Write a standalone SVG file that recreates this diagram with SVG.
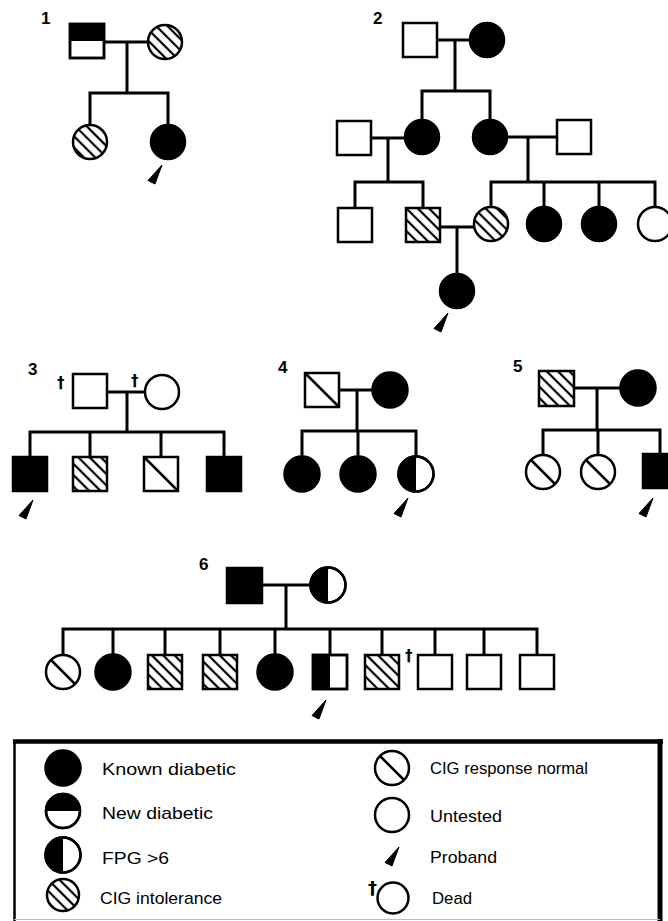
<svg xmlns="http://www.w3.org/2000/svg" xmlns:xlink="http://www.w3.org/1999/xlink" width="668" height="921" viewBox="0 0 668 921">
<style>
.o{fill:#fff;stroke:#000;stroke-width:2.5}
.b{fill:#000;stroke:#000;stroke-width:2.5}
.h{fill:url(#hatch);stroke:#000;stroke-width:2.5}
.e{fill:none;stroke:#000;stroke-width:2.5}
.k{fill:#000;stroke:none}
.ln{stroke:#000;stroke-width:3;fill:none;stroke-linecap:square}
.d{stroke:#000;stroke-width:2.5}
.t{font-family:"Liberation Sans",Arial,sans-serif;font-size:17px;fill:#000}
.n{font-family:"Liberation Sans",Arial,sans-serif;font-size:17px;font-weight:bold;fill:#000}
.dg{font-family:"DejaVu Sans",sans-serif;font-size:15px;font-weight:bold;fill:#000}
</style>
<defs>
<pattern id="hatch" patternUnits="userSpaceOnUse" width="8" height="8" patternTransform="rotate(-45)">
<rect width="8" height="8" fill="#fff"/>
<line x1="4" y1="0" x2="4" y2="8" stroke="#000" stroke-width="2.2"/>
</pattern>
<path id="pb" d="M0,0 L-14,15.5 L-7,19 Z" fill="#000" stroke="#000" stroke-width="1" stroke-linejoin="miter"/>
</defs>
<rect width="668" height="921" fill="#fff"/>

<g id="connectors">
<path class="ln" d="M104,42 H148 M127,42 V93 M90,93 H168 M90,93 V125 M168,93 V125"/>
<path class="ln" d="M437,40 H470 M455,40 V91 M422,91 H490 M422,91 V120 M490,91 V120"/>
<path class="ln" d="M371,138 H405 M388,138 V182 M355,182 H423 M355,182 V208 M423,182 V208"/>
<path class="ln" d="M507,137 H557 M528,137 V182 M491,182 H655 M491,182 V207 M544,182 V207 M599,182 V207 M655,182 V207"/>
<path class="ln" d="M440,227 H474 M457,227 V274"/>
<path class="ln" d="M107,392 H145 M127,392 V432 M30,432 H224 M30,432 V457 M90,432 V457 M161,432 V457 M224,432 V457"/>
<path class="ln" d="M339,390 H372 M357,390 V431 M302,431 H416 M302,431 V457 M358,431 V457 M416,431 V457"/>
<path class="ln" d="M574,388 H620 M597,388 V430 M543,430 H660 M543,430 V455 M598,430 V455 M660,430 V454"/>
<path class="ln" d="M262,585 H310 M286,585 V629 M63,629 H537 M63,629 V655 M113,629 V655 M165,629 V655 M220,629 V655 M275,629 V655 M330,629 V655 M382,629 V655 M435,629 V655 M484,629 V655 M537,629 V655"/>
</g>

<g id="ped1">
<text class="n" x="41" y="24">1</text>
<g id="p1-father"><rect class="o" x="70" y="24" width="34" height="34"/><rect class="k" x="70" y="24" width="34" height="17"/><rect class="e" x="70" y="24" width="34" height="34"/></g>
<g id="p1-mother"><circle class="h" cx="165" cy="42" r="17"/></g>
<g id="p1-c1"><circle class="h" cx="90" cy="142" r="17"/></g>
<g id="p1-c2"><circle class="b" cx="168" cy="142" r="17"/><use href="#pb" x="162" y="165"/></g>
</g>

<g id="ped2">
<text class="n" x="373" y="24">2</text>
<g id="p2-gf"><rect class="o" x="403" y="23" width="34" height="34"/></g>
<g id="p2-gm"><circle class="b" cx="487" cy="40" r="17"/></g>
<g id="p2-d1"><circle class="b" cx="422" cy="137" r="17"/></g>
<g id="p2-d2"><circle class="b" cx="490" cy="137" r="17"/></g>
<g id="p2-h1"><rect class="o" x="337" y="121" width="34" height="34"/></g>
<g id="p2-h2"><rect class="o" x="557" y="120" width="34" height="34"/></g>
<g id="p2-s1"><rect class="o" x="338" y="208" width="34" height="34"/></g>
<g id="p2-s2"><rect class="h" x="406" y="208" width="34" height="34"/></g>
<g id="p2-c1"><circle class="h" cx="491" cy="224" r="17"/></g>
<g id="p2-c2"><circle class="b" cx="544" cy="224" r="17"/></g>
<g id="p2-c3"><circle class="b" cx="599" cy="224" r="17"/></g>
<g id="p2-c4"><circle class="o" cx="655" cy="224" r="17"/></g>
<g id="p2-proband"><circle class="b" cx="457" cy="291" r="17"/><use href="#pb" x="448" y="313"/></g>
</g>

<g id="ped3">
<text class="n" x="28" y="375">3</text>
<g id="p3-father"><text class="dg" x="57" y="388">†</text><rect class="o" x="73" y="374" width="34" height="34"/></g>
<g id="p3-mother"><text class="dg" x="131" y="386">†</text><circle class="o" cx="162" cy="392" r="17"/></g>
<g id="p3-c1"><rect class="b" x="13" y="457" width="34" height="34"/><use href="#pb" x="33" y="500"/></g>
<g id="p3-c2"><rect class="h" x="73" y="457" width="34" height="34"/></g>
<g id="p3-c3"><rect class="o" x="144" y="457" width="34" height="34"/><line class="d" x1="144" y1="457" x2="178" y2="491"/></g>
<g id="p3-c4"><rect class="b" x="207" y="457" width="34" height="34"/></g>
</g>

<g id="ped4">
<text class="n" x="278" y="373">4</text>
<g id="p4-father"><rect class="o" x="305" y="373" width="34" height="34"/><line class="d" x1="305" y1="373" x2="339" y2="407"/></g>
<g id="p4-mother"><circle class="b" cx="390" cy="390" r="17.5"/></g>
<g id="p4-c1"><circle class="b" cx="302" cy="474" r="17.5"/></g>
<g id="p4-c2"><circle class="b" cx="358" cy="474" r="17.5"/></g>
<g id="p4-c3"><circle class="o" cx="416" cy="474" r="17.5"/><path class="k" d="M416,456.5 A17.5,17.5 0 0 0 416,491.5 Z"/><circle class="e" cx="416" cy="474" r="17.5"/><use href="#pb" x="408" y="498"/></g>
</g>

<g id="ped5">
<text class="n" x="513" y="372">5</text>
<g id="p5-father"><rect class="h" x="539" y="371" width="35" height="35"/></g>
<g id="p5-mother"><circle class="b" cx="638" cy="388" r="17.5"/></g>
<g id="p5-c1"><circle class="o" cx="543" cy="472" r="17"/><line class="d" x1="531" y1="460" x2="555" y2="484"/></g>
<g id="p5-c2"><circle class="o" cx="598" cy="472" r="17"/><line class="d" x1="586" y1="460" x2="610" y2="484"/></g>
<g id="p5-c3"><rect class="b" x="643" y="454" width="34" height="34"/><use href="#pb" x="653" y="498"/></g>
</g>

<g id="ped6">
<text class="n" x="199" y="570">6</text>
<g id="p6-father"><rect class="b" x="227" y="568" width="35" height="35"/></g>
<g id="p6-mother"><circle class="o" cx="328" cy="585" r="17.5"/><path class="k" d="M328,567.5 A17.5,17.5 0 0 0 328,602.5 Z"/><circle class="e" cx="328" cy="585" r="17.5"/></g>
<g id="p6-c1"><circle class="o" cx="63" cy="672" r="17"/><line class="d" x1="51" y1="660" x2="75" y2="684"/></g>
<g id="p6-c2"><circle class="b" cx="113" cy="672" r="17.5"/></g>
<g id="p6-c3"><rect class="h" x="148" y="655" width="34" height="34"/></g>
<g id="p6-c4"><rect class="h" x="203" y="655" width="34" height="34"/></g>
<g id="p6-c5"><circle class="b" cx="275" cy="672" r="17.5"/></g>
<g id="p6-c6"><rect class="o" x="313" y="655" width="34" height="34"/><rect class="k" x="313" y="655" width="17" height="34"/><rect class="e" x="313" y="655" width="34" height="34"/><use href="#pb" x="326" y="700"/></g>
<g id="p6-c7"><rect class="h" x="365" y="655" width="34" height="34"/></g>
<g id="p6-c8"><text class="dg" x="405" y="661">†</text><rect class="o" x="418" y="655" width="34" height="34"/></g>
<g id="p6-c9"><rect class="o" x="467" y="655" width="34" height="34"/></g>
<g id="p6-c10"><rect class="o" x="520" y="655" width="34" height="34"/></g>
</g>

<g id="legend">
<path d="M13,741.5 H663" stroke="#000" stroke-width="4.5"/>
<path d="M14.5,740 V921" stroke="#000" stroke-width="2.5"/>
<path d="M660,739 V921" stroke="#000" stroke-width="5"/>
<path d="M14,919.5 H660" stroke="#bbb" stroke-width="1"/>

<g id="lg-known"><circle class="b" cx="63" cy="768" r="17.5"/><text class="t" x="102" y="775" textLength="134" lengthAdjust="spacingAndGlyphs">Known diabetic</text></g>
<g id="lg-new"><circle class="o" cx="63" cy="811" r="17"/><path class="k" d="M46,811 A17,17 0 0 1 80,811 Z"/><circle class="e" cx="63" cy="811" r="17"/><text class="t" x="102" y="819" textLength="111" lengthAdjust="spacingAndGlyphs">New diabetic</text></g>
<g id="lg-fpg"><circle class="o" cx="63" cy="855" r="17.5"/><path class="k" d="M63,837.5 A17.5,17.5 0 0 0 63,872.5 Z"/><circle class="e" cx="63" cy="855" r="17.5"/><text class="t" x="102" y="864" textLength="67" lengthAdjust="spacingAndGlyphs">FPG &gt;6</text></g>
<g id="lg-cig"><circle class="h" cx="63" cy="895" r="16"/><text class="t" x="100" y="904" textLength="122" lengthAdjust="spacingAndGlyphs">CIG intolerance</text></g>

<g id="lg-normal"><circle class="o" cx="392" cy="768" r="17"/><line class="d" x1="380" y1="756" x2="404" y2="780"/><text class="t" x="430" y="774" textLength="158" lengthAdjust="spacingAndGlyphs">CIG response normal</text></g>
<g id="lg-untested"><circle class="o" cx="392" cy="815" r="17"/><text class="t" x="430" y="822" textLength="72" lengthAdjust="spacingAndGlyphs">Untested</text></g>
<g id="lg-proband"><use href="#pb" x="399" y="847"/><text class="t" x="430" y="863" textLength="67" lengthAdjust="spacingAndGlyphs">Proband</text></g>
<g id="lg-dead"><circle class="o" cx="393" cy="898" r="15.5"/><text class="dg" x="368" y="894" style="font-size:18px">†</text><text class="t" x="432" y="904" textLength="40" lengthAdjust="spacingAndGlyphs">Dead</text></g>
</g>
</svg>
